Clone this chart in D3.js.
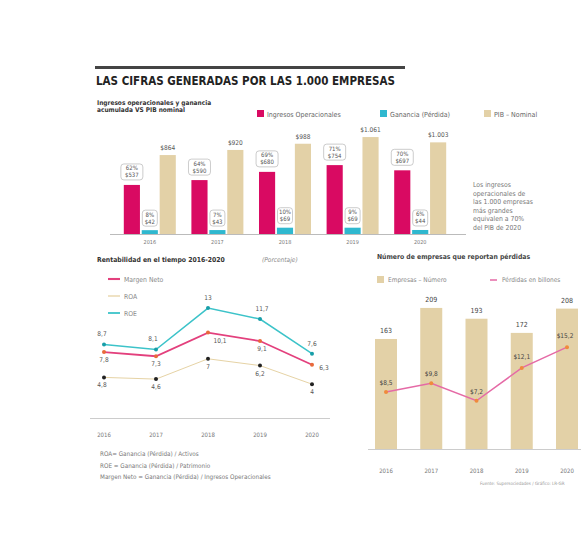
<!DOCTYPE html>
<html>
<head>
<meta charset="utf-8">
<script src="https://cdn.jsdelivr.net/npm/d3@7/dist/d3.min.js"></script>
<style>
  body { margin: 0; background: #fff; }
  svg text { font-family: "Liberation Sans Narrow", "DejaVu Sans Condensed", "Roboto", sans-serif; }
</style>
</head>
<body>
<div id="chart"></div>
<script>
// datos
const years = ["2016", "2017", "2018", "2019", "2020"];

// grafico 1: billones de pesos
const ingresos = [537, 590, 680, 754, 697];
const ganancia = [42, 43, 69, 69, 44];
const pib = [864, 920, 988, 1061, 1003];
const pibLabels = ["$864", "$920", "$988", "$1.061", "$1.003"];
const ingresosPct = ["62%", "64%", "69%", "71%", "70%"];
const gananciaPct = ["8%", "7%", "10%", "9%", "6%"];

// grafico 2: rentabilidad (%)
const margenNeto = [7.8, 7.3, 10.1, 9.1, 6.3];
const roa = [4.8, 4.6, 7, 6.2, 4];
const roe = [8.7, 8.1, 13, 11.7, 7.6];

// grafico 3: empresas con perdidas
const empresas = [163, 209, 193, 172, 208];
const perdidas = [8.5, 9.8, 7.2, 12.1, 15.2];

const pink = "#d90a62", cyan = "#2fb8cf", tan = "#e3d1a7";
const fmt = v => String(v).replace(".", ",");

const svg = d3.select("#chart").append("svg")
    .attr("width", 581)
    .attr("height", 536);

// titulo
svg.append("rect").attr("x", 95).attr("y", 66).attr("width", 310).attr("height", 3).attr("fill", "#444");
svg.append("text").attr("x", 96).attr("y", 85)
    .attr("font-size", 11.5).attr("font-weight", "bold").attr("fill", "#222")
    .text("LAS CIFRAS GENERADAS POR LAS 1.000 EMPRESAS");

// ---------- grafico 1 ----------
svg.append("text").attr("x", 97).attr("y", 105).attr("font-size", 6.5).attr("font-weight", "bold").attr("fill", "#333")
    .text("Ingresos operacionales y ganancia");
svg.append("text").attr("x", 97).attr("y", 112).attr("font-size", 6.5).attr("font-weight", "bold").attr("fill", "#333")
    .text("acumulada VS PIB nominal");

const leg1 = [
    { name: "Ingresos Operacionales", color: pink, x: 257 },
    { name: "Ganancia (Pérdida)", color: cyan, x: 380 },
    { name: "PIB – Nominal", color: tan, x: 484 }
];
leg1.forEach(d => {
    svg.append("rect").attr("x", d.x).attr("y", 110).attr("width", 7).attr("height", 7).attr("fill", d.color);
    svg.append("text").attr("x", d.x + 10).attr("y", 116.5).attr("font-size", 7).attr("fill", "#666").text(d.name);
});

const x1 = d3.scaleBand().domain(years).range([116, 454]);
const sub = d3.scaleBand().domain(["ing", "gan", "pib"]).range([-26, 26]).paddingInner(0.1);
const y1 = d3.scaleLinear().domain([0, 1100]).range([234, 133.5]);

const g1 = svg.append("g");
g1.append("line").attr("x1", 110).attr("x2", 466).attr("y1", 234.5).attr("y2", 234.5).attr("stroke", "#bbb");

const rows1 = years.map((y, i) => ({ year: y, ing: ingresos[i], gan: ganancia[i], pib: pib[i], i }));
const cx = d => x1(d.year) + x1.bandwidth() / 2;

[["ing", pink], ["gan", cyan], ["pib", tan]].forEach(([k, c]) => {
    g1.selectAll(".b" + k).data(rows1).enter().append("rect")
        .attr("x", d => cx(d) + sub(k))
        .attr("y", d => y1(d[k]))
        .attr("width", sub.bandwidth())
        .attr("height", d => y1(0) - y1(d[k]))
        .attr("fill", c);
});

// etiquetas PIB
g1.selectAll(".lpib").data(rows1).enter().append("text")
    .attr("x", d => cx(d) + sub("pib") + sub.bandwidth() / 2)
    .attr("y", d => y1(d.pib) - 5)
    .attr("text-anchor", "middle").attr("font-size", 6.5).attr("fill", "#555")
    .text(d => pibLabels[d.i]);

// cajas con porcentaje
function boxLabel(g, xc, ybot, l1, l2, w) {
    g.append("rect").attr("x", xc - w / 2).attr("y", ybot - 17).attr("width", w).attr("height", 16)
        .attr("rx", 3).attr("fill", "#fff").attr("stroke", "#aaa").attr("stroke-width", 0.6);
    g.append("text").attr("x", xc).attr("y", ybot - 10.5).attr("text-anchor", "middle")
        .attr("font-size", 6).attr("fill", "#555").text(l1);
    g.append("text").attr("x", xc).attr("y", ybot - 3.5).attr("text-anchor", "middle")
        .attr("font-size", 6).attr("fill", "#555").text(l2);
}
rows1.forEach(d => {
    boxLabel(g1, cx(d) + sub("ing") + sub.bandwidth() / 2, y1(d.ing) - 4, ingresosPct[d.i], "$" + d.ing, 22);
    boxLabel(g1, cx(d) + sub("gan") + sub.bandwidth() / 2, y1(d.gan) - 3, gananciaPct[d.i], "$" + d.gan, 15);
});

g1.selectAll(".yr").data(years).enter().append("text")
    .attr("x", d => x1(d) + x1.bandwidth() / 2).attr("y", 244)
    .attr("text-anchor", "middle").attr("font-size", 5.5).attr("fill", "#777").text(d => d);

// nota
const nota = ["Los ingresos", "operacionales de", "las 1.000 empresas", "más grandes", "equivalen a 70%", "del PIB de 2020"];
svg.append("g").selectAll("text").data(nota).enter().append("text")
    .attr("x", 473).attr("y", (d, i) => 187 + i * 8.6)
    .attr("font-size", 6.8).attr("fill", "#777").text(d => d);

// ---------- grafico 2 ----------
svg.append("text").attr("x", 97).attr("y", 262).attr("font-size", 6.8).attr("font-weight", "bold").attr("fill", "#333")
    .text("Rentabilidad en el tiempo 2016-2020");
svg.append("text").attr("x", 262).attr("y", 262).attr("font-size", 6.5).attr("font-style", "italic").attr("fill", "#888")
    .text("(Porcentaje)");

const series2 = [
    { name: "Margen Neto", values: margenNeto, color: "#e3407d", dot: "#e86a3a", width: 1.8 },
    { name: "ROA", values: roa, color: "#e6d3a5", dot: "#222", width: 1 },
    { name: "ROE", values: roe, color: "#3cc3c9", dot: "#179ea8", width: 1.5 }
];
series2.forEach((s, i) => {
    svg.append("line").attr("x1", 108).attr("x2", 120).attr("y1", 279 + i * 17).attr("y2", 279 + i * 17)
        .attr("stroke", s.color).attr("stroke-width", s.width + 0.3);
    svg.append("text").attr("x", 124).attr("y", 281.5 + i * 17).attr("font-size", 6.8).attr("fill", "#888").text(s.name);
});

const x2 = d3.scalePoint().domain(years).range([104, 312]);
const y2 = d3.scaleLinear().domain([0, 14]).range([418, 299.6]);
const line2 = d3.line().x((d, i) => x2(years[i])).y(d => y2(d));

const g2 = svg.append("g");
g2.append("line").attr("x1", 90).attr("x2", 330).attr("y1", 418.5).attr("y2", 418.5).attr("stroke", "#ccc");

series2.forEach(s => {
    g2.append("path").datum(s.values).attr("d", line2).attr("fill", "none")
        .attr("stroke", s.color).attr("stroke-width", s.width);
    g2.selectAll(null).data(s.values).enter().append("circle")
        .attr("cx", (d, i) => x2(years[i])).attr("cy", d => y2(d)).attr("r", 2).attr("fill", s.dot);
});

// etiquetas de valores
const lab2 = [
    { s: roe, dx: [-2, -3, 0, 2, 0], dy: [-8, -8, -8, -8, -8] },
    { s: margenNeto, dx: [0, 0, 12, 2, 12], dy: [10, 10, 10, 10, 5] },
    { s: roa, dx: [-2, 0, 0, 0, 0], dy: [10, 10, 10, 10, 10] }
];
lab2.forEach(l => {
    l.s.forEach((v, i) => {
        g2.append("text").attr("x", x2(years[i]) + l.dx[i]).attr("y", y2(v) + l.dy[i])
            .attr("text-anchor", "middle").attr("font-size", 6.5).attr("fill", "#555").text(fmt(v));
    });
});

g2.selectAll(".yr2").data(years).enter().append("text")
    .attr("x", d => x2(d)).attr("y", 437)
    .attr("text-anchor", "middle").attr("font-size", 6).attr("fill", "#777").text(d => d);

const notas2 = ["ROA= Ganancia (Pérdida) / Activos", "ROE = Ganancia (Pérdida) / Patrimonio", "Margen Neto = Ganancia (Pérdida) / Ingresos Operacionales"];
svg.append("g").selectAll("text").data(notas2).enter().append("text")
    .attr("x", 100).attr("y", (d, i) => 456 + i * 11.5)
    .attr("font-size", 6.3).attr("fill", "#777").text(d => d);

// ---------- grafico 3 ----------
svg.append("text").attr("x", 377).attr("y", 259).attr("font-size", 6.8).attr("font-weight", "bold").attr("fill", "#444")
    .text("Número de empresas que reportan pérdidas");
svg.append("rect").attr("x", 377).attr("y", 276).attr("width", 7).attr("height", 7).attr("fill", tan);
svg.append("text").attr("x", 388).attr("y", 282).attr("font-size", 6.5).attr("fill", "#888").text("Empresas – Número");
svg.append("line").attr("x1", 490).attr("x2", 497).attr("y1", 280).attr("y2", 280).attr("stroke", "#e56aa6").attr("stroke-width", 1.5);
svg.append("text").attr("x", 502).attr("y", 282).attr("font-size", 6.5).attr("fill", "#888").text("Pérdidas en billones");

const x3 = d3.scalePoint().domain(years).range([386, 567]);
const bw3 = 22;
const y3 = d3.scaleLinear().domain([0, 220]).range([449, 300.5]);
const y3b = d3.scaleLinear().domain([0, 16]).range([449, 341.8]);

const g3 = svg.append("g");
const rows3 = years.map((y, i) => ({ year: y, n: empresas[i], p: perdidas[i] }));

g3.selectAll(".b3").data(rows3).enter().append("rect")
    .attr("x", d => x3(d.year) - bw3 / 2).attr("y", d => y3(d.n))
    .attr("width", bw3).attr("height", d => y3(0) - y3(d.n)).attr("fill", tan);
g3.selectAll(".l3").data(rows3).enter().append("text")
    .attr("x", d => x3(d.year)).attr("y", d => y3(d.n) - 6)
    .attr("text-anchor", "middle").attr("font-size", 7).attr("fill", "#444").text(d => d.n);

g3.append("line").attr("x1", 368).attr("x2", 581).attr("y1", 449.5).attr("y2", 449.5).attr("stroke", "#ccc");

const line3 = d3.line().x(d => x3(d.year)).y(d => y3b(d.p));
g3.append("path").datum(rows3).attr("d", line3).attr("fill", "none").attr("stroke", "#e56aa6").attr("stroke-width", 1.5);
g3.selectAll(".c3").data(rows3).enter().append("circle")
    .attr("cx", d => x3(d.year)).attr("cy", d => y3b(d.p)).attr("r", 2).attr("fill", "#f08a3c");
g3.selectAll(".t3").data(rows3).enter().append("text")
    .attr("x", (d, i) => x3(d.year) + [0, 0, 0, 0, -2][i]).attr("y", d => y3b(d.p) - [7, 7, 7, 9, 9][rows3.indexOf(d)])
    .attr("text-anchor", "middle").attr("font-size", 6.5).attr("fill", "#444").text(d => "$" + fmt(d.p));

g3.selectAll(".yr3").data(years).enter().append("text")
    .attr("x", d => x3(d)).attr("y", 473)
    .attr("text-anchor", "middle").attr("font-size", 6).attr("fill", "#777").text(d => d);

svg.append("text").attr("x", 480).attr("y", 485).attr("font-size", 4.5).attr("fill", "#999")
    .text("Fuente: Supersociedades / Gráfico: LR-GR");
</script>
</body>
</html>
